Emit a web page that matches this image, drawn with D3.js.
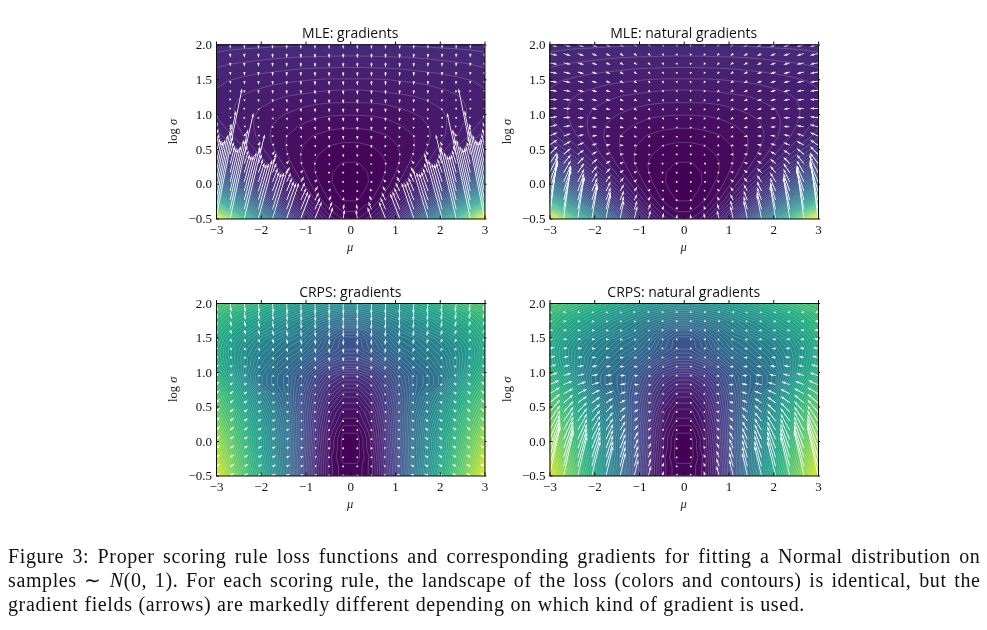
<!DOCTYPE html>
<html><head><meta charset="utf-8">
<style>
html,body{margin:0;padding:0;background:#fff;width:987px;height:630px;overflow:hidden}
svg{display:block;filter:blur(0.45px)}
.ax text{font-family:"Liberation Serif",serif;font-size:13px;fill:#111}
.ax path,.ax line{stroke:#111;stroke-width:1;fill:none}
.title{font-family:"Open Sans",sans-serif;font-size:14px;fill:#111;text-anchor:middle}
.lab{font-family:"Liberation Serif",serif;font-size:12.5px;fill:#222;text-anchor:middle}
.cap{font-family:"Liberation Serif",serif;font-size:20px;fill:#111}
</style>
<script src="https://cdn.jsdelivr.net/npm/d3@7/dist/d3.min.js"></script>
</head><body>
<svg id="fig" width="987" height="630" xmlns="http://www.w3.org/2000/svg"></svg>
<script>
// positive half of the mu arrow/loss grid (the picture is mirror-symmetric about mu = 0)
const muHalf = [0.158,0.474,0.789,1.105,1.421,1.737,2.053,2.368,2.684,3.0];
// log sigma rows, bottom to top
const logSigma = [-0.5,-0.368,-0.237,-0.105,0.026,0.158,0.289,0.421,0.553,0.684,0.816,0.947,1.079,1.211,1.342,1.474,1.605,1.737,1.868,2.0];
const xTicks = [-3,-2,-1,0,1,2,3];
const yTicks = [-0.5,0,0.5,1,1.5,2];

// loss landscapes: one row per logSigma, one column per muHalf
const mleLoss = [
[.89,1.16,1.71,2.52,3.60,4.96,6.59,8.48,10.65,13.09],
[.70,.91,1.33,1.95,2.78,3.83,5.08,6.54,8.20,10.08],
[.58,.74,1.06,1.54,2.18,2.99,3.95,5.07,6.35,7.79],
[.53,.65,.90,1.27,1.76,2.38,3.11,3.97,4.96,6.07],
[.51,.61,.80,1.08,1.46,1.93,2.50,3.16,3.92,4.77],
[.53,.61,.75,.97,1.26,1.63,2.06,2.57,3.15,3.81],
[.58,.63,.74,.91,1.14,1.41,1.75,2.14,2.59,3.09],
[.64,.68,.77,.90,1.07,1.28,1.54,1.84,2.18,2.57],
[.72,.75,.82,.92,1.05,1.22,1.42,1.65,1.91,2.21],
[.81,.84,.89,.96,1.06,1.19,1.34,1.52,1.72,1.95],
[.92,.94,.98,1.04,1.12,1.21,1.33,1.47,1.62,1.80],
[1.03,1.04,1.07,1.12,1.18,1.25,1.34,1.45,1.57,1.70],
[1.14,1.15,1.17,1.21,1.26,1.31,1.38,1.46,1.56,1.66],
[1.26,1.26,1.28,1.31,1.34,1.39,1.44,1.50,1.57,1.65],
[1.37,1.38,1.40,1.42,1.44,1.48,1.52,1.56,1.62,1.68],
[1.50,1.50,1.51,1.53,1.55,1.57,1.61,1.64,1.68,1.73],
[1.63,1.63,1.64,1.65,1.67,1.69,1.71,1.74,1.77,1.81],
[1.75,1.76,1.76,1.77,1.78,1.80,1.82,1.84,1.86,1.89],
[1.88,1.88,1.89,1.89,1.90,1.91,1.93,1.94,1.96,1.99],
[2.01,2.01,2.01,2.02,2.03,2.04,2.05,2.06,2.07,2.09]];

const crpsLoss = [
[1,4,12,24,38,50,62,72,83,95],
[1,4,12,24,37,49,60,70,81,93],
[0,4,13,24,37,48,59,69,79,90],
[0,5,13,25,37,47,57,67,77,87],
[0,5,14,25,37,47,57,66,75,85],
[1,6,14,25,36,46,55,64,73,82],
[3,7,15,25,36,45,53,62,71,79],
[4,8,16,25,35,43,51,60,69,76],
[6,10,17,25,34,41,49,58,66,74],
[8,12,18,26,33,39,46,55,64,71],
[11,14,20,27,33,36,40,51,61,68],
[14,17,22,28,33,36,40,47,58,65],
[19,21,26,31,35,38,42,48,55,62],
[23,26,30,34,37,40,43,48,54,61],
[26,29,33,37,39,42,45,49,54,61],
[26,30,35,39,41,44,47,51,56,62],
[30,34,38,42,45,48,51,55,59,64],
[37,39,42,45,48,51,55,58,62,66],
[43,45,47,50,53,56,59,62,65,69],
[50,51,53,55,58,61,64,67,70,72]];

// arrows, hundredths of a data unit: dMu points towards mu = 0, dLog points up
const mleGradDmu = [
[3.1,9.2,15.3,21.4,27.6,33.7,39.8,45.9,52.1,58.2],
[2.4,7.1,11.8,16.5,21.2,25.9,30.6,35.3,40,44.7],
[1.8,5.4,9,12.7,16.3,19.9,23.5,27.1,30.8,34.4],
[1.4,4.2,7,9.7,12.5,15.3,18.1,20.9,23.7,26.5],
[1.1,3.2,5.3,7.5,9.6,11.8,13.9,16,18.2,20.3],
[.8,2.5,4.1,5.8,7.4,9,10.7,12.3,14,15.6],
[.6,1.9,3.2,4.4,5.7,7,8.2,9.5,10.7,12],
[.5,1.5,2.4,3.4,4.4,5.3,6.3,7.3,8.3,9.2],
[.4,1.1,1.9,2.6,3.4,4.1,4.9,5.6,6.3,7.1],
[.3,.9,1.4,2,2.6,3.2,3.7,4.3,4.9,5.5],
[.2,.7,1.1,1.5,2,2.4,2.9,3.3,3.8,4.2],
[.2,.5,.8,1.2,1.5,1.9,2.2,2.5,2.9,3.2],
[.1,.4,.7,.9,1.2,1.4,1.7,2,2.2,2.5],
[.1,.3,.5,.7,.9,1.1,1.3,1.5,1.7,1.9],
[.1,.2,.4,.5,.7,.8,1,1.1,1.3,1.5],
[.1,.2,.3,.4,.5,.6,.8,.9,1,1.1],
[0,.1,.2,.3,.4,.5,.6,.7,.8,.9],
[0,.1,.2,.2,.3,.4,.5,.5,.6,.7],
[0,.1,.1,.2,.2,.3,.4,.4,.5,.5],
[0,.1,.1,.1,.2,.2,.3,.3,.3,.4]];
const mleGradDlog = [
[12.8,16.6,24.3,36,51.5,70.8,94,121,152,187],
[8.1,11.1,17,26,38,53,71,91,115,142],
[4.6,6.9,11.5,18,27.5,39,53,69,87,108],
[1.9,3.6,7.2,12.4,19.5,28,39,51,65,81],
[-.2,1.1,3.9,7.9,13.3,20,28,38,48,61],
[-1.8,-.8,1.3,4.4,8.6,13.8,20,27,36,45],
[-3,-2.2,-.6,1.8,4.9,8.9,13.8,19.3,25.7,33],
[-4,-3.4,-2.1,-.3,2.1,5.2,8.9,13.2,18.1,23.6],
[-4.7,-4.2,-3.3,-1.9,0,2.4,5.2,8.5,12.3,16.5],
[-5.3,-4.9,-4.2,-3.1,-1.6,.1,2.4,4.9,7.8,11],
[-5.7,-5.4,-4.9,-4,-2.9,-1.5,.1,2.1,4.4,6.9],
[-6,-5.8,-5.4,-4.8,-3.9,-2.9,-1.6,-.1,1.6,3.6],
[-6.3,-6.1,-5.8,-5.3,-4.6,-3.8,-2.8,-1.7,-.3,1.1],
[-6.5,-6.4,-6.1,-5.7,-5.2,-4.6,-3.8,-2.9,-1.9,-.8],
[-6.6,-6.5,-6.4,-6.1,-5.7,-5.2,-4.6,-3.9,-3.2,-2.3],
[-6.8,-6.7,-6.5,-6.3,-6,-5.6,-5.2,-4.7,-4.1,-3.4],
[-6.8,-6.8,-6.7,-6.5,-6.3,-6,-5.6,-5.3,-4.8,-4.3],
[-6.9,-6.9,-6.8,-6.6,-6.5,-6.2,-6,-5.7,-5.3,-4.9],
[-7,-6.9,-6.9,-6.8,-6.6,-6.5,-6.2,-6,-5.7,-5.4],
[-7,-7,-6.9,-6.8,-6.7,-6.6,-6.5,-6.3,-6.1,-5.8]];

// natural-gradient MLE arrows: the horizontal part only changes with mu
const mleNatDmuByColumn = [1,2.9,4.8,6.7,8.6,10.5,12.5,14.4,16.3,18.2];
const mleNatDlog = [
[6.4,8.3,12,18,26,35,47,60,76,93],
[4,5.5,8.5,13,19,26,35,46,58,71],
[2.3,3.5,5.8,9,14,19,26,34,44,54],
[1,1.8,3.6,6.2,9.8,14,19,26,33,40],
[-.1,.5,2,4,6.6,10,14,19,24,30],
[-.9,-.4,.6,2.2,4.3,6.9,10,14,18,23],
[-1.5,-1.1,-.3,.9,2.4,4.4,6.9,9.6,13,16],
[-2,-1.7,-1,-.1,1,2.6,4.4,6.6,9,12],
[-2.4,-2.1,-1.6,-1,0,1.2,2.6,4.2,6.1,8.2],
[-2.6,-2.5,-2.1,-1.5,-.8,0,1.2,2.4,3.9,5.5],
[-2.8,-2.7,-2.4,-2,-1.5,-.8,0,1,2.2,3.4],
[-3,-2.9,-2.7,-2.4,-2,-1.4,-.8,0,.8,1.8],
[-3.1,-3,-2.9,-2.6,-2.3,-1.9,-1.4,-.8,-.2,.5],
[-3.2,-3.2,-3,-2.8,-2.6,-2.3,-1.9,-1.4,-1,-.4],
[-3.3,-3.2,-3.2,-3,-2.8,-2.6,-2.3,-2,-1.6,-1.2],
[-3.4,-3.3,-3.2,-3.2,-3,-2.8,-2.6,-2.4,-2,-1.7],
[-3.4,-3.4,-3.4,-3.2,-3.2,-3,-2.8,-2.6,-2.4,-2.2],
[-3.4,-3.4,-3.4,-3.3,-3.2,-3.1,-3,-2.8,-2.6,-2.4],
[-3.5,-3.4,-3.4,-3.4,-3.3,-3.2,-3.1,-3,-2.8,-2.7],
[-3.5,-3.5,-3.4,-3.4,-3.4,-3.3,-3.2,-3.2,-3,-2.9]];

const crpsGradDmu = [
[1.1,3.1,5,6.6,7.8,8.6,9.2,9.6,9.8,9.9],
[1,3,4.8,6.4,7.6,8.5,9.1,9.5,9.7,9.9],
[1,2.9,4.6,6.1,7.3,8.3,8.9,9.4,9.6,9.8],
[.9,2.8,4.4,5.9,7.1,8,8.7,9.2,9.5,9.7],
[.9,2.6,4.2,5.6,6.8,7.7,8.5,9,9.4,9.6],
[.8,2.4,3.9,5.3,6.4,7.4,8.2,8.8,9.2,9.5],
[.8,2.2,3.6,4.9,6,7,7.8,8.4,8.9,9.3],
[.7,2,3.3,4.6,5.6,6.6,7.4,8,8.6,9],
[.6,1.9,3.1,4.2,5.2,6.1,6.9,7.6,8.2,8.7],
[.6,1.7,2.8,3.8,4.8,5.7,6.5,7.1,7.7,8.2],
[.5,1.5,2.5,3.5,4.4,5.2,5.9,6.6,7.2,7.8],
[.5,1.4,2.2,3.1,3.9,4.7,5.4,6.1,6.7,7.2],
[.4,1.2,2,2.8,3.5,4.2,4.9,5.5,6.1,6.7],
[.4,1.1,1.8,2.5,3.2,3.8,4.4,5,5.6,6.1],
[.3,1,1.6,2.2,2.8,3.4,4,4.5,5,5.5],
[.3,.8,1.4,2,2.5,3,3.5,4,4.5,5],
[.2,.7,1.2,1.7,2.2,2.7,3.1,3.6,4,4.5],
[.2,.7,1.1,1.5,1.9,2.4,2.8,3.2,3.6,4],
[.2,.6,1,1.3,1.7,2.1,2.5,2.8,3.2,3.5],
[.2,.5,.8,1.2,1.5,1.9,2.2,2.5,2.8,3.1]];
const crpsGradDlog = [
[.9,1.1,1.4,1.8,2.2,2.6,2.9,3.1,3.2,3.3],
[.8,1,1.4,1.8,2.3,2.8,3.1,3.4,3.6,3.8],
[.6,.8,1.2,1.8,2.4,2.9,3.4,3.8,4,4.2],
[.3,.6,1,1.7,2.3,3,3.6,4.1,4.4,4.7],
[0,.3,.8,1.4,2.2,3,3.7,4.3,4.8,5.1],
[-.5,-.2,.4,1.1,2,2.9,3.7,4.4,5.1,5.5],
[-1,-.7,-.1,.7,1.6,2.6,3.5,4.4,5.2,5.9],
[-1.5,-1.2,-.7,.1,1.1,2.1,3.2,4.2,5.1,6],
[-2.2,-1.9,-1.3,-.5,.5,1.5,2.7,3.8,4.9,5.9],
[-2.9,-2.6,-2.1,-1.3,-.3,.8,2,3.2,4.4,5.5],
[-3.7,-3.5,-2.9,-2.2,-1.2,-.1,1.1,2.3,3.6,4.9],
[-4.6,-4.4,-3.9,-3.2,-2.3,-1.2,0,1.2,2.6,3.9],
[-5.6,-5.4,-5,-4.3,-3.4,-2.4,-1.3,0,1.3,2.6],
[-6.7,-6.5,-6.1,-5.5,-4.7,-3.8,-2.7,-1.5,-.2,1.1],
[-7.9,-7.8,-7.4,-6.9,-6.1,-5.2,-4.2,-3.1,-1.9,-.6],
[-9.3,-9.1,-8.8,-8.3,-7.7,-6.9,-5.9,-4.9,-3.8,-2.5],
[-10.9,-10.7,-10.4,-10,-9.4,-8.6,-7.8,-6.8,-5.8,-4.6],
[-12.6,-12.4,-12.2,-11.8,-11.2,-10.6,-9.8,-8.9,-8,-6.9],
[-14.5,-14.4,-14.1,-13.8,-13.3,-12.7,-12,-11.3,-10.4,-9.5],
[-16.8,-16.6,-16.4,-16.1,-15.7,-15.2,-14.6,-13.9,-13.1,-12.2]];

const crpsNatDmu = [
[1.5,3,6,9,12,16,19,21,22,24],
[1.5,3.5,6,9,12,16,19,21,22,24],
[1.5,3.5,6,9,12,16,19,21,22,24],
[1.5,3.5,6,9,12,16,19,21,22,24],
[1.5,4,6,9,12,16,19,21,22,24],
[1.5,4,6.5,9,12,16,19,21,22,24],
[1.5,4,7,9,12,16,19,21,22,24],
[1.5,4,7,10,13,16,19,21,22,24],
[1.5,4,7,10,13,16,19,21,22,24],
[1.5,4.5,7.5,10.5,14,17,19,21,22,24],
[1.5,4.5,7.5,11,14,16,18,19,20,22],
[1.4,4,7,10,12,14,15,16,17,19],
[1.2,3.5,6,8.5,10,12,13,14,14,16],
[1,3,5,7,9,10,11,12,12,14],
[.9,2.6,4.3,6,7.5,8.5,9,10,10,12],
[.8,2.3,3.8,5.2,6.5,7.5,8,8.5,9,10],
[.7,2,3.3,4.5,5.6,6.5,7,7.5,8,9],
[.6,1.7,2.8,3.8,4.8,5.5,6,6.5,7,7.5],
[.5,1.5,2.4,3.2,4,4.6,5,5.5,6,6.5],
[.4,1.2,2,2.6,3.3,3.8,4.2,4.6,5,5.5]];
const crpsNatDlog = [
[3,7,14,23,33,43,50,57,64,71],
[2,6,12,20,29,37,44,50,55,60],
[1,5,10,17,25,32,38,43,47,52],
[.5,3.5,8,14,21,27,32,36,40,44],
[0,2.5,6,11,17,22,26,30,33,36],
[-.5,1.5,4,8,13,17,21,24,27,29],
[-.8,.5,2.5,6,10,13,16,19,21,23],
[-1,0,1.5,4,7,10,12,14,16,18],
[-1.2,-.5,.5,2,4.5,7,9,10,12,13],
[-1.3,-.8,0,1,3,4.5,6,7,8,9.5],
[-1.4,-1,-.5,.2,1.5,2.5,3.5,4.5,5.5,6.5],
[-1.4,-1.2,-.8,-.3,.3,1.2,2,2.7,3.5,4.5],
[-1.5,-1.3,-1,-.6,-.2,.4,1,1.5,2.2,3],
[-1.5,-1.4,-1.2,-.8,-.5,-.1,.3,.7,1.2,2],
[-1.5,-1.4,-1.3,-1,-.7,-.4,-.1,.2,.6,1.2],
[-1.5,-1.4,-1.3,-1.1,-.9,-.6,-.4,-.1,.2,.7],
[-1.5,-1.5,-1.3,-1.2,-1,-.8,-.6,-.4,-.1,.3],
[-1.6,-1.5,-1.4,-1.3,-1.1,-1,-.8,-.6,-.3,0],
[-1.6,-1.5,-1.4,-1.3,-1.2,-1.1,-.9,-.7,-.5,-.2],
[-1.6,-1.5,-1.5,-1.4,-1.3,-1.2,-1,-.8,-.6,-.3]];

const panelTitles = ["MLE: gradients","MLE: natural gradients","CRPS: gradients","CRPS: natural gradients"];
const captionLines = [
 "Figure 3: Proper scoring rule loss functions and corresponding gradients for fitting a Normal distribution on",
 "samples ∼ |N|(0, 1). For each scoring rule, the landscape of the loss (colors and contours) is identical, but the",
 "gradient fields (arrows) are markedly different depending on which kind of gradient is used."];

const svg = d3.select("#fig");
const panels = [
 {title:panelTitles[0],x0:216,x1:484.5,y0:44.5,y1:218.5,loss:mleLoss,dom:[0.5,13.09],levels:80,lineAlpha:.34,dMu:mleGradDmu,dLog:mleGradDlog},
 {title:panelTitles[1],x0:549.5,x1:818,y0:44.5,y1:218.5,loss:mleLoss,dom:[0.5,13.09],levels:80,lineAlpha:.34,dMu:mleNatDmuByColumn,dLog:mleNatDlog},
 {title:panelTitles[2],x0:216,x1:484.5,y0:303,y1:475.5,loss:crpsLoss,dom:[0,100],levels:72,lineAlpha:.36,dMu:crpsGradDmu,dLog:crpsGradDlog},
 {title:panelTitles[3],x0:549.5,x1:818,y0:303,y1:475.5,loss:crpsLoss,dom:[0,100],levels:72,lineAlpha:.36,dMu:crpsNatDmu,dLog:crpsNatDlog}
];
const mirrored = row => row.slice().reverse().concat(row);
const muFull = mirrored(muHalf).map((m,k)=>k<muHalf.length?-m:m);

function arrowPath(sx,sy,ax,ay,bx,by){
  const px0=sx(ax),py0=sy(ay),px1=sx(bx),py1=sy(by);
  const L=Math.hypot(px1-px0,py1-py0), w=0.85;
  const c=L>0?(px1-px0)/L:0, s=L>0?(py1-py0)/L:-1;
  const P=(u,v)=>[px0+u*c-v*s,py0+u*s+v*c];
  const minD=2*w;
  if(L<minD){ // too short to show a head: matplotlib-like dot
    const r=minD*0.6;
    return d3.line()(d3.range(6).map(k=>[px0+r*Math.cos(k*Math.PI/3),py0+r*Math.sin(k*Math.PI/3)]))+"Z";
  }
  const k=L<5*w?L/(5*w):1, hl=5*w*k, ha=4.5*w*k, hw=1.5*w, sw=(k<1?.62:.5)*w;
  return d3.line()([P(0,-sw),P(L-ha,-sw),P(L-hl,-hw),P(L,0),P(L-hl,hw),P(L-ha,sw),P(0,sw)])+"Z";
}

panels.forEach((p,pi)=>{
  const g=svg.append("g");
  const sx=d3.scaleLinear().domain([-3,3]).range([p.x0,p.x1]);
  const sy=d3.scaleLinear().domain([-0.5,2]).range([p.y1,p.y0]);
  const id="clip"+pi;
  g.append("clipPath").attr("id",id).append("rect").attr("x",p.x0).attr("y",p.y0).attr("width",p.x1-p.x0).attr("height",p.y1-p.y0);
  const plot=g.append("g").attr("clip-path",`url(#${id})`);
  // loss field, filled bands then contour lines
  const n=muFull.length,m=logSigma.length;
  const values=[];
  p.loss.forEach(r=>mirrored(r).forEach(v=>values.push(v)));
  const zmin=d3.min(values),zmax=d3.max(values);
  const step=(zmax-zmin)/p.levels;
  const th=[zmin-step].concat(d3.range(p.levels).map(k=>zmin+step*(k+.5)));
  const bands=d3.contours().size([n,m]).thresholds(th)(values);
  const gx=d3.scaleLinear().domain([0.5,n-0.5]).range([sx(-3),sx(3)]);
  const gy=d3.scaleLinear().domain([0.5,m-0.5]).range([sy(-0.5),sy(2)]);
  const proj=d3.geoTransform({point(x,y){this.stream.point(gx(x),gy(y));}});
  const path=d3.geoPath(proj);
  const col=d3.scaleSequential(d3.interpolateViridis).domain(p.dom);
  plot.selectAll("path.b").data(bands).join("path").attr("class","b").attr("d",path)
    .attr("fill",d=>col(Math.max(d.value,zmin)+step/2)).attr("stroke",d=>col(Math.max(d.value,zmin)+step/2)).attr("stroke-width",.3);
  plot.selectAll("path.c").data(bands.slice(1)).join("path").attr("class","c").attr("d",path)
    .attr("fill","none").attr("stroke","#fff").attr("stroke-opacity",p.lineAlpha).attr("stroke-width",.6);
  // arrows
  const arrows=[];
  logSigma.forEach((ls,i)=>muFull.forEach((mu,k)=>{
    const j=k<10?9-k:k-10, side=mu<0?1:-1;
    const row=Array.isArray(p.dMu[0])?p.dMu[i]:p.dMu;
    arrows.push({mu,ls,dx:side*row[j]/100,dy:p.dLog[i][j]/100});
  }));
  plot.selectAll("path.a").data(arrows).join("path").attr("class","a")
    .attr("d",d=>arrowPath(sx,sy,d.mu,d.ls,d.mu+d.dx,d.ls+d.dy))
    .attr("fill","#fff").attr("fill-opacity",.97);
  // axes
  const fmtX=d=>String(d).replace("-","−");
  const fmtY=d=>d3.format(".1f")(d).replace("-","−");
  g.append("g").attr("class","ax").attr("transform",`translate(0,${p.y1})`)
    .call(d3.axisBottom(sx).tickValues(xTicks).tickFormat(fmtX).tickSize(-3).tickSizeOuter(0).tickPadding(6));
  g.append("g").attr("class","ax").attr("transform",`translate(0,${p.y0})`)
    .call(d3.axisTop(sx).tickValues(xTicks).tickFormat("").tickSize(3).tickSizeOuter(0));
  g.append("g").attr("class","ax").attr("transform",`translate(${p.x0},0)`)
    .call(d3.axisLeft(sy).tickValues(yTicks).tickFormat(fmtY).tickSize(-3).tickSizeOuter(0).tickPadding(4));
  g.append("g").attr("class","ax").attr("transform",`translate(${p.x1},0)`)
    .call(d3.axisRight(sy).tickValues(yTicks).tickFormat("").tickSize(2).tickSizeOuter(0));
  // labels
  g.append("text").attr("class","title").attr("x",(p.x0+p.x1)/2).attr("y",p.y0-6.5).text(p.title);
  g.append("text").attr("class","lab").attr("x",(p.x0+p.x1)/2).attr("y",p.y1+32).attr("font-style","italic").text("μ");
  const yl=g.append("text").attr("class","lab").attr("transform",`translate(${p.x0-39},${(p.y0+p.y1)/2}) rotate(-90)`);
  yl.append("tspan").text("log ");
  yl.append("tspan").attr("font-style","italic").text("σ");
});

// caption, each justified line filled by word spacing
const capEnds=[980.5,980.5,805];
const capY=[562.5,586.5,611];
captionLines.forEach((ln,i)=>{
  const t=svg.append("text").attr("class","cap").attr("x",8).attr("y",capY[i]).attr("letter-spacing",.62);
  ln.split("|").forEach((part,k)=>{
    const s=t.append("tspan").text(part);
    if(k===1) s.attr("font-style","italic");
  });
  const w=t.node().getComputedTextLength();
  const spaces=(ln.match(/ /g)||[]).length;
  t.attr("word-spacing",((capEnds[i]-8)-w)/spaces);
});
</script>
</body></html>
